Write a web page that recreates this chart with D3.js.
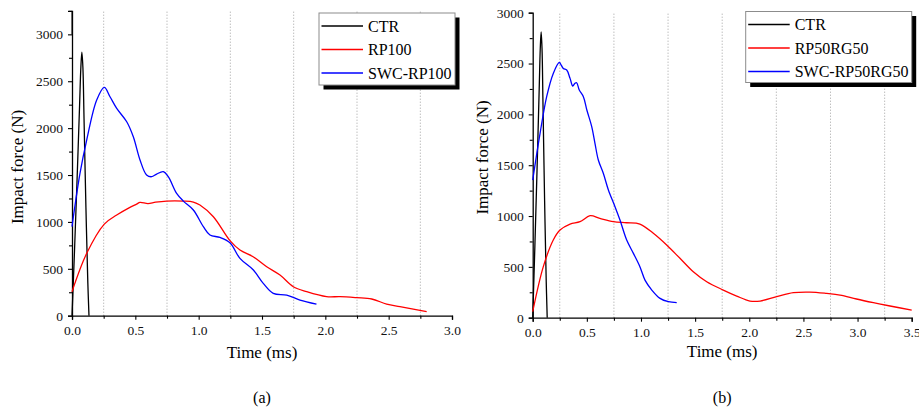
<!DOCTYPE html>
<html><head><meta charset="utf-8">
<script src="https://cdn.jsdelivr.net/npm/d3@7/dist/d3.min.js"></script>
<style>
html,body{margin:0;padding:0;background:#fff;}
svg{display:block;font-family:"Liberation Serif","Times New Roman",serif;}
</style></head><body>
<svg id="chart" width="919" height="409"></svg>
<script>
// ---- data (time in ms, force in N) ----
const ctrTime  = [0, 0.02, 0.04, 0.06, 0.07, 0.078, 0.086, 0.095, 0.11, 0.125, 0.134];
const ctrForce = [0, 700, 1450, 2250, 2650, 2810, 2650, 2100, 1150, 350, 0];

const rp100Time  = [0, 0.116, 0.255, 0.353, 0.45, 0.51, 0.537, 0.6, 0.66, 0.747, 0.879, 0.958, 1.01, 1.116, 1.247, 1.326, 1.43, 1.537, 1.642, 1.747, 1.853, 2.01, 2.116, 2.247, 2.366, 2.484, 2.589, 2.8];
const rp100Force = [256, 665, 977, 1073, 1150, 1190, 1208, 1195, 1210, 1222, 1222, 1212, 1180, 1055, 800, 700, 629, 522, 433, 309, 256, 203, 203, 192, 178, 124, 96, 43];

const swcRp100Time  = [0, 0.063, 0.116, 0.195, 0.255, 0.3, 0.353, 0.432, 0.484, 0.537, 0.589, 0.629, 0.668, 0.721, 0.76, 0.826, 0.879, 0.958, 1.037, 1.089, 1.168, 1.247, 1.326, 1.432, 1.51, 1.589, 1.695, 1.8, 1.93];
const swcRp100Force = [949, 1517, 1873, 2299, 2434, 2335, 2210, 2068, 1908, 1660, 1500, 1482, 1510, 1535, 1482, 1304, 1222, 1127, 949, 860, 835, 778, 611, 487, 345, 238, 220, 167, 124];

const rp50Time  = [0, 0.098, 0.19, 0.252, 0.345, 0.437, 0.53, 0.62, 0.745, 0.868, 0.99, 1.114, 1.237, 1.36, 1.483, 1.607, 1.76, 1.884, 2.007, 2.1, 2.253, 2.407, 2.56, 2.715, 2.838, 2.99, 3.146, 3.3, 3.5];
const rp50Force = [59, 502, 764, 862, 921, 944, 1003, 977, 944, 934, 921, 830, 715, 584, 452, 354, 272, 213, 164, 164, 207, 246, 252, 239, 223, 184, 148, 115, 75];

const swcRp50Time  = [0, 0.068, 0.129, 0.19, 0.246, 0.258, 0.283, 0.314, 0.345, 0.37, 0.39, 0.406, 0.43, 0.468, 0.5, 0.545, 0.575, 0.606, 0.652, 0.699, 0.76, 0.806, 0.868, 0.93, 0.99, 1.037, 1.1, 1.176, 1.253, 1.33];
const swcRp50Force = [1354, 1813, 2174, 2403, 2511, 2495, 2452, 2436, 2354, 2279, 2305, 2311, 2239, 2174, 2043, 1879, 1715, 1551, 1420, 1256, 1092, 961, 764, 633, 502, 370, 272, 190, 157, 148];

const xTicksA = [0, 0.5, 1.0, 1.5, 2.0, 2.5, 3.0];
const xTicksB = [0, 0.5, 1.0, 1.5, 2.0, 2.5, 3.0, 3.5];
const yTicks  = [0, 500, 1000, 1500, 2000, 2500, 3000];
const legendA = ["CTR", "RP100", "SWC-RP100"];
const legendB = ["CTR", "RP50RG50", "SWC-RP50RG50"];
const colors  = ["#000000", "#ff0000", "#0000ff"];

const svg = d3.select("#chart");

function zip(t, f){ return t.map((v,i)=>[v, f[i]]); }

function panel(o){
  const x = d3.scaleLinear().domain([0, o.xmax]).range([o.x0, o.x1]);
  const y = d3.scaleLinear().domain([0, o.ymax]).range([o.y0, o.y1]);
  const g = svg.append("g");

  // dotted vertical grid at odd quarter ms
  const grid = d3.range(0.25, o.xmax, 0.5);
  g.selectAll(".grid").data(grid).join("line")
    .attr("x1", d=>x(d)).attr("x2", d=>x(d))
    .attr("y1", y(0)).attr("y2", y(o.ymax))
    .attr("stroke", "#8a8a8a").attr("stroke-width", 0.8)
    .attr("stroke-dasharray", "1,2");

  // axes
  const xAxis = d3.axisBottom(x).tickValues(o.xticks).tickFormat(d3.format(".1f")).tickSize(4).tickPadding(6);
  const gx = g.append("g").attr("transform", `translate(0,${y(0)})`).call(xAxis);
  const yAxis = d3.axisLeft(y).tickValues(yTicks).tickFormat(d3.format("d")).tickSize(4).tickPadding(5);
  const gy = g.append("g").attr("transform", `translate(${x(0)},0)`).call(yAxis);
  // minor ticks
  const xMinor = d3.axisBottom(x).tickValues(d3.range(0.25, o.xmax, 0.5)).tickFormat("").tickSize(3);
  g.append("g").attr("transform", `translate(0,${y(0)})`).call(xMinor).select(".domain").remove();
  const yMinor = d3.axisLeft(y).tickValues(d3.range(250, o.ymax + 1, 500)).tickFormat("").tickSize(3);
  g.append("g").attr("transform", `translate(${x(0)},0)`).call(yMinor).select(".domain").remove();
  if (o.ymax > 3000) {
    g.append("line").attr("x1", x(0)).attr("x2", x(0)).attr("y1", y(3000)).attr("y2", y(o.ymax)).attr("stroke","#000");
  }
  g.selectAll(".domain").attr("stroke", "#000").attr("stroke-width", 1.3);
  g.selectAll(".tick line").attr("stroke", "#000").attr("stroke-width", 1.1);
  g.selectAll(".tick text").attr("font-family", "Liberation Serif, serif").attr("font-size", 13.5).attr("fill", "#111");
  gx.selectAll(".tick text").attr("dy", "0.71em");

  // axis titles
  g.append("text").attr("x", (o.x0 + o.x1) / 2).attr("y", o.xTitleY)
    .attr("text-anchor", "middle").attr("font-size", 17).text("Time (ms)");
  g.append("text").attr("transform", `translate(${o.yTitleX},${o.yTitleCY}) rotate(-90)`)
    .attr("text-anchor", "middle").attr("font-size", 17).text("Impact force (N)");
  g.append("text").attr("x", (o.x0 + o.x1) / 2).attr("y", 403)
    .attr("text-anchor", "middle").attr("font-size", 16).text(o.label);

  // curves
  const line = d3.line().x(d=>x(d[0])).y(d=>y(d[1])).curve(d3.curveCatmullRom.alpha(0.5));
  o.series.forEach((s, i) => {
    g.append("path").datum(s).attr("d", line)
      .attr("fill", "none").attr("stroke", colors[i]).attr("stroke-width", 1.3)
      .attr("stroke-linejoin", "round");
  });

  // legend
  const L = o.legend;
  g.append("rect").attr("x", L.x + 4.5).attr("y", L.y + 4.5).attr("width", L.w).attr("height", L.h).attr("fill", "#000");
  g.append("rect").attr("x", L.x).attr("y", L.y).attr("width", L.w).attr("height", L.h)
    .attr("fill", "#fff").attr("stroke", "#8c8c8c").attr("stroke-width", 1);
  o.names.forEach((n, i) => {
    const cy = L.y + 13 + i * 23.5;
    g.append("line").attr("x1", L.x + 2.5).attr("x2", L.x + 44).attr("y1", cy).attr("y2", cy)
      .attr("stroke", colors[i]).attr("stroke-width", 1.4);
    g.append("text").attr("x", L.x + 49).attr("y", cy + 5.5).attr("font-size", 16).text(n);
  });
}

panel({
  x0: 72, x1: 452, y0: 315.7, y1: 10.9, xmax: 3.0, ymax: 3250,
  xticks: xTicksA, xTitleY: 358, yTitleX: 23, yTitleCY: 167, label: "(a)",
  series: [zip(ctrTime, ctrForce), zip(rp100Time, rp100Force), zip(swcRp100Time, swcRp100Force)],
  names: legendA, legend: {x: 319, y: 13, w: 136, h: 72}
});
panel({
  x0: 532.7, x1: 911.7, y0: 317.7, y1: 12.7, xmax: 3.5, ymax: 3000,
  xticks: xTicksB, xTitleY: 357, yTitleX: 488, yTitleCY: 157.5, label: "(b)",
  series: [zip(ctrTime, ctrForce), zip(rp50Time, rp50Force), zip(swcRp50Time, swcRp50Force)],
  names: legendB, legend: {x: 745.7, y: 11.5, w: 166, h: 71}
});
</script>
</body></html>
